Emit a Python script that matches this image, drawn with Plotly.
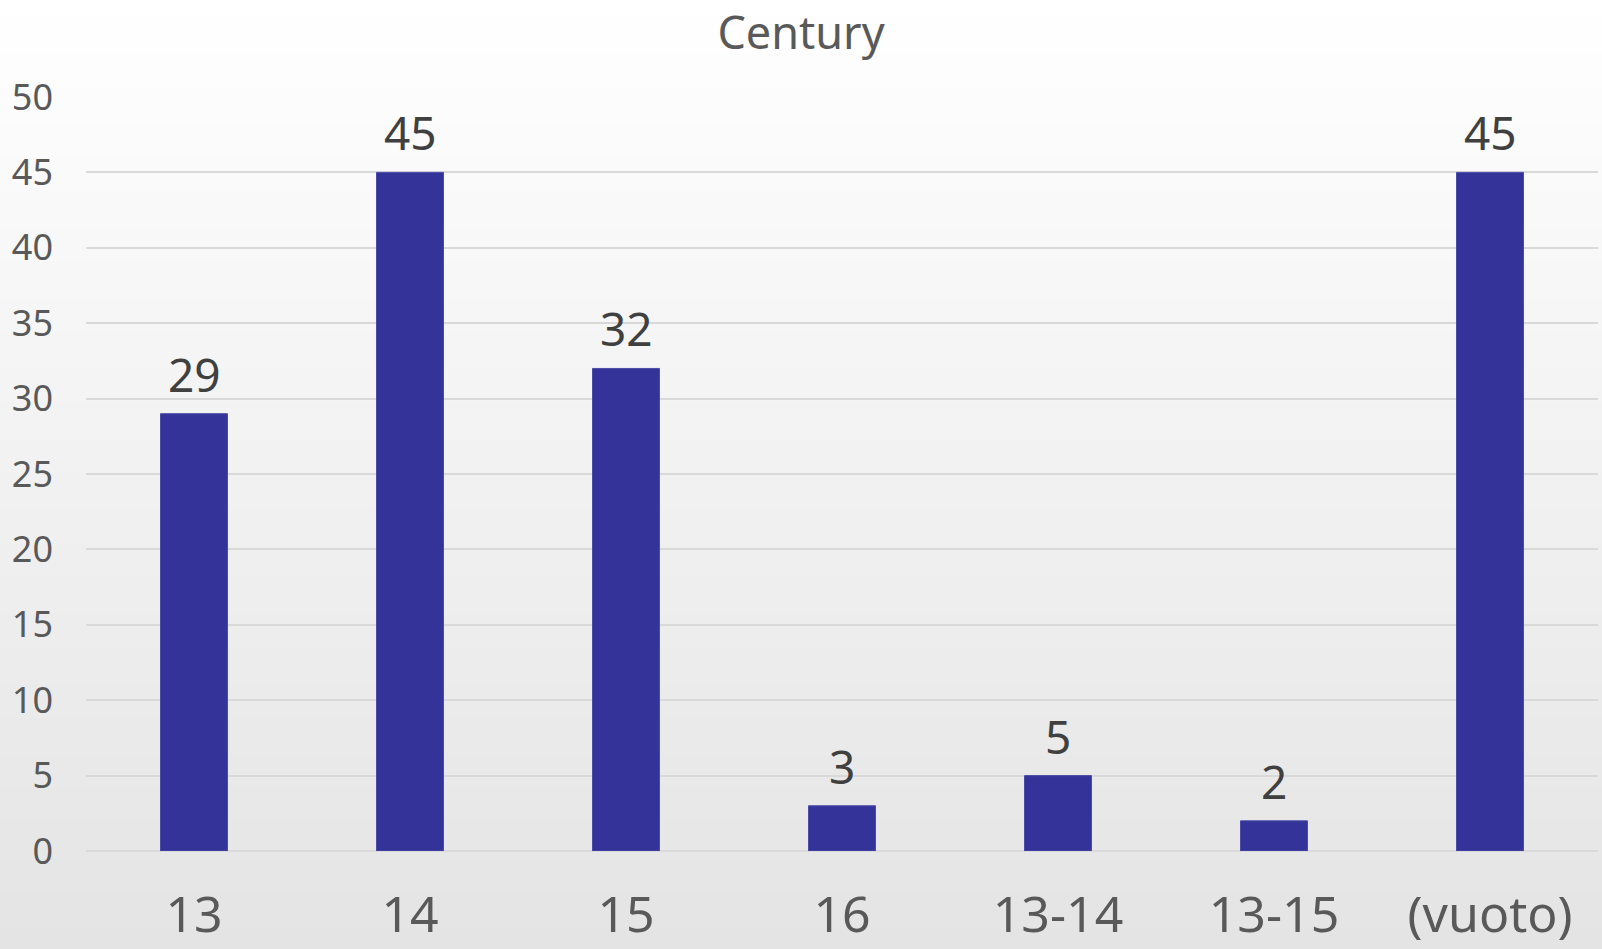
import base64, struct, zlib
import plotly.graph_objects as go

categories = ["13", "14", "15", "16", "13-14", "13-15", "(vuoto)"]
values = [29, 45, 32, 3, 5, 2, 45]
y_ticks = [0, 5, 10, 15, 20, 25, 30, 35, 40, 45, 50]
title_text = "Century"

W, H = 1602, 949
L, R, T, B = 86, 4, 97, 98


def gradient_png(n, top, bottom):
    rows = b""
    for i in range(n):
        f = i / (n - 1)
        v = int(round(top + (bottom - top) * f))
        rows += b"\x00" + bytes([v, v, v])
    def chunk(tag, data):
        c = struct.pack(">I", len(data)) + tag + data
        return c + struct.pack(">I", zlib.crc32(tag + data) & 0xffffffff)
    png = b"\x89PNG\r\n\x1a\n"
    png += chunk(b"IHDR", struct.pack(">IIBBBBB", 1, n, 8, 2, 0, 0, 0))
    png += chunk(b"IDAT", zlib.compress(rows))
    png += chunk(b"IEND", b"")
    return "data:image/png;base64," + base64.b64encode(png).decode()


pw = W - L - R
ph = H - T - B

fig = go.Figure(go.Bar(
    x=categories, y=values,
    marker=dict(color="#333399", line=dict(color="#4b4ba8", width=1)),
    width=0.31,
    cliponaxis=False,
))

# category index positions on the category axis (numeric-looking labels would
# otherwise be read as indices)
annotations = [
    dict(x=i, y=v, xref="x", yref="y", text=str(v), showarrow=False,
         yanchor="bottom", xanchor="center", yshift=7,
         font=dict(family="Noto Sans", size=46, color="#404040"))
    for i, v in enumerate(values)
]

fig.update_layout(
    width=W, height=H,
    margin=dict(l=L, r=R, t=T, b=B, pad=0, autoexpand=False),
    paper_bgcolor="rgba(0,0,0,0)",
    plot_bgcolor="rgba(0,0,0,0)",
    showlegend=False,
    annotations=annotations,
    title=dict(text=title_text, x=0.5, xanchor="center", y=1 - 33 / H, yanchor="middle",
               font=dict(family="Noto Sans", size=45, color="#595959")),
    images=[dict(source=gradient_png(256, 255, 228), xref="paper", yref="paper",
                 x=-L / pw, y=1 + T / ph, sizex=W / pw, sizey=H / ph,
                 sizing="stretch", xanchor="left", yanchor="top", layer="below")],
    xaxis=dict(type="category", categoryorder="array", categoryarray=categories,
               range=[-0.5, len(categories) - 0.5], tickangle=0, automargin=False,
               tickfont=dict(family="Noto Sans", size=50, color="#595959"),
               showgrid=False, showline=False, ticks="", ticklabelstandoff=30),
    yaxis=dict(range=[0, 50], tickvals=y_ticks, autorange=False, automargin=False,
               tickfont=dict(family="Noto Sans", size=36, color="#595959"),
               gridcolor="#d9d9d9", gridwidth=2, zeroline=True, zerolinecolor="#d9d9d9",
               zerolinewidth=2, showline=False, ticks="", ticklabelstandoff=32),
)

fig.write_html("out.html")
